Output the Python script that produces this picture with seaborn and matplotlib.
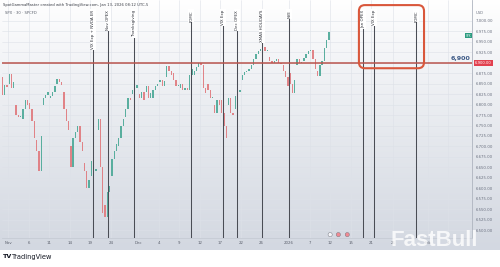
import numpy as np
import pandas as pd
import matplotlib
matplotlib.use("Agg")
import matplotlib.pyplot as plt
import matplotlib.transforms as mtransforms
from matplotlib.patches import FancyBboxPatch
from matplotlib.colors import to_rgb
import seaborn as sns

sns.set_theme(style="white")
plt.rcParams['font.family'] = ['DejaVu Sans']

# ---------------- data (SPX, each session: [open, 1/3 close, 2/3 close, close]) ----------------
oct_days = [[6865, 6822, 6848, 6842]]
nov_days = [
    [6850, 6872, 6840, 6855],  # 3
    [6800, 6775, 6770, 6772],  # 4
    [6765, 6790, 6812, 6800],  # 5
    [6805, 6790, 6760, 6720],  # 6
    [6715, 6690, 6640, 6725],  # 7
    [6800, 6815, 6822, 6830],  # 10
    [6815, 6820, 6830, 6845],  # 11
    [6850, 6862, 6855, 6848],  # 12
    [6830, 6790, 6760, 6740],  # 13
    [6700, 6650, 6720, 6735],  # 14
    [6735, 6750, 6710, 6690],  # 17
    [6660, 6640, 6600, 6620],  # 18
    [6630, 6665, 6640, 6645],  # 19
    [6740, 6765, 6650, 6540],  # 20
    [6560, 6530, 6590, 6605],  # 21
    [6630, 6670, 6690, 6705],  # 24
    [6700, 6720, 6750, 6765],  # 25
    [6770, 6790, 6815, 6812],  # 26
    [6825, 6835, 6840, 6848],  # 28
]
dec_days = [
    [6825, 6815, 6830, 6812],  # 1
    [6830, 6845, 6815, 6828],  # 2
    [6815, 6835, 6845, 6850],  # 3
    [6855, 6860, 6845, 6857],  # 4
    [6865, 6893, 6880, 6870],  # 5
    [6875, 6860, 6845, 6846],  # 8
    [6840, 6850, 6835, 6840],  # 9
    [6840, 6835, 6870, 6886],  # 10
    [6870, 6880, 6890, 6900],  # 11
    [6900, 6895, 6840, 6827],  # 12
    [6850, 6835, 6815, 6816],  # 15
    [6800, 6780, 6810, 6800],  # 16
    [6810, 6780, 6750, 6721],  # 17
    [6800, 6815, 6780, 6775],  # 18
    [6790, 6820, 6830, 6834],  # 19
    [6860, 6870, 6878, 6878],  # 22
    [6880, 6885, 6895, 6909],  # 23
    [6910, 6920, 6928, 6932],  # 24
    [6935, 6938, 6928, 6929],  # 26
    [6915, 6905, 6900, 6905],  # 29
    [6905, 6910, 6900, 6896],  # 30
    [6895, 6880, 6865, 6845],  # 31
]
jan_days = [
    [6875, 6850, 6828, 6858],  # 2
    [6895, 6910, 6900, 6902],  # 5
    [6905, 6912, 6920, 6928],  # 6
    [6928, 6930, 6910, 6885],  # 7
    [6880, 6868, 6895, 6905],  # 8
    [6905, 6935, 6955, 6973],  # 9
]
first_session = -1  # Oct 31 is one session before Nov 3 (session 0)

tick_sessions = [0, 3, 6, 9, 12, 15, 19, 22, 25, 28, 31, 34, 37, 41, 44, 47, 50, 53, 56.2, 61.3, 64.2]
tick_labels = ["Nov", "6", "11", "14", "19", "24", "Dec", "4", "9", "12", "17", "22", "26",
               "2026", "7", "12", "15", "21", "26", "Feb", "4"]

event_names = ["VIX Exp + NVDA ER", "Nov OPEX", "Thanksgiving", "FOMC", "VIX Exp", "Dec OPEX",
               "XMAS HOLIDAYS", "NYE", "Jan OPEX", "VIX Exp", "FOMC"]
event_sessions = [12.41, 14.60, 18.39, 26.72, 31.39, 33.43, 37.08, 41.02, 51.82, 53.43, 59.56]

price_ticks = list(range(6500, 7001, 25))
level = 6900
focus_box = {"x0": 51.2, "x1": 60.7, "y0": 6887, "y1": 7038}

# ---------------- build candles ----------------
all_days = oct_days + nov_days + dec_days + jan_days
rows, pts = [], []
for i, day in enumerate(all_days):
    s = first_session + i
    for k in range(3):
        rows.append({"x": s + (k + 0.5) / 3, "open": day[k], "close": day[k + 1]})
df = pd.DataFrame(rows)
df["up"] = df["close"] >= df["open"]
h = df["close"] - df["open"]
h = np.where(np.abs(h) < 2.0, np.where(h >= 0, 2.0, -2.0), h)

W, H = 500, 267
fig = plt.figure(figsize=(W / 100, H / 100), dpi=100)

# background gradient
bg = fig.add_axes([0, 0, 1, 1], zorder=-10)
bg.set_xlim(0, W); bg.set_ylim(H, 0); bg.axis("off")
g = np.linspace(0, 1, 256)[:, None, None]
top_c = np.array(to_rgb("#ffffff")); bot_c = np.array(to_rgb("#d3d8e1"))
img = top_c + (bot_c - top_c) * g ** 0.9
img = np.repeat(img, 2, axis=1)
bg.imshow(img, extent=[0, 472, 250, 0], aspect="auto")
bg.imshow(img, extent=[472, 500, 250, 0], aspect="auto")

# main axes
ax = fig.add_axes([2 / W, 1 - 238 / H, 470 / W, 238 / H], zorder=2)
ax.set_facecolor("none")
ax.set_xlim(-0.88, 67.7)
ax.set_ylim(6480.9, 7050.2)

ax.set_yticks(price_ticks)
ax.set_yticklabels([f"{v:,.2f}" for v in price_ticks])
ax.yaxis.tick_right()
ax.set_xticks(tick_sessions)
ax.set_xticklabels(tick_labels)
ax.tick_params(axis="y", length=0, pad=2.6, labelsize=2.8, labelcolor="#6b7180")
ax.tick_params(axis="x", length=0, pad=2.4, labelsize=2.8, labelcolor="#5a5f6b")
ax.grid(True, color="#dde1e8", lw=0.4)
for sp in ["top", "left"]:
    ax.spines[sp].set_visible(False)
ax.spines["right"].set_color("#aeb4bf"); ax.spines["right"].set_linewidth(0.6)
ax.spines["bottom"].set_color("#c3c8d1"); ax.spines["bottom"].set_linewidth(0.5)

# candles
colors = np.where(df["up"], "#4aa896", "#e0787c")
ax.bar(df["x"], h, bottom=df["open"], width=0.19, color=colors, linewidth=0, zorder=3, alpha=0.9)

# event lines
label_top = 7026
for name, s in zip(event_names, event_sessions):
    ax.plot([s, s], [6480.9, label_top], color="#4a4d55", lw=0.75, zorder=4)
    ax.text(s, label_top, name, rotation=90, ha="center", va="top", fontsize=2.9,
            color="#2f323a", zorder=5,
            bbox=dict(facecolor="white", edgecolor="none", pad=0.6))

# horizontal level
sns.lineplot(x=[-0.88, 67.7], y=[level, level], ax=ax, color="#b9544d", lw=1.1, zorder=4)
ax.text(66.0, level + 5, f"{level:,}", ha="center", va="bottom", fontsize=4.6,
        fontweight="bold", color="#3d5a86", zorder=6)
blend = mtransforms.blended_transform_factory(ax.transAxes, ax.transData)
ax.text(1.006, level, f"{level:,.2f}", transform=blend, ha="left", va="center",
        fontsize=2.7, color="white", zorder=6, clip_on=False,
        bbox=dict(facecolor="#e2404e", edgecolor="none", pad=0.8))
ax.text(0.998, all_days[-1][-1] - 8, "SPX", transform=blend, ha="right", va="center",
        fontsize=2.1, color="white", zorder=6, clip_on=False,
        bbox=dict(facecolor="#2c9c80", edgecolor="none", pad=0.6))

# focus box (rounded)
px_per_day = 470 / (67.7 + 0.88)
px_per_pt = 238 / (7050.2 - 6480.9)
r_days = 6 / px_per_day
box = FancyBboxPatch((focus_box["x0"], focus_box["y0"]), focus_box["x1"] - focus_box["x0"],
                     focus_box["y1"] - focus_box["y0"],
                     boxstyle=f"round,pad=0,rounding_size={r_days:.3f}",
                     mutation_aspect=(px_per_day / px_per_pt),
                     facecolor="none", edgecolor="#d9573b", lw=1.5, zorder=7, clip_on=False)
ax.add_patch(box)

# event markers near bottom
ev = pd.DataFrame({"x": [47.0, 48.2, 49.5], "y": [6489, 6489, 6489], "k": ["a", "b", "b"]})
sns.scatterplot(data=ev, x="x", y="y", hue="k", palette={"a": "#f4f4f7", "b": "#f08a93"},
                s=9, edgecolor="#6a6e78", linewidth=0.3, legend=False, ax=ax, zorder=6, clip_on=False)
ax.set_xlabel(""); ax.set_ylabel("")

# overlay for texts
ov = fig.add_axes([0, 0, 1, 1], zorder=10)
ov.set_xlim(0, W); ov.set_ylim(H, 0); ov.axis("off"); ov.set_facecolor("none")
ov.text(3, 5, "SpotGammaMaster created with TradingView.com, Jan 13, 2026 08:12 UTC-5",
        fontsize=2.7, color="#3a3d45", va="center", ha="left")
ov.text(5, 13, "SPX · 30 · SPCFD", fontsize=2.7, color="#5a5f6b", va="center", ha="left")
ov.text(476, 13, "USD", fontsize=2.7, color="#6b7180", va="center", ha="left")
ov.text(3, 257, "TV", fontsize=4.6, fontweight="heavy", color="#131722", va="center", ha="left")
ov.text(12, 257, "TradingView", fontsize=4.8, fontweight="medium", color="#131722",
        va="center", ha="left")
ov.text(434, 240, "FastBull", fontsize=16, fontweight="bold", family=["Liberation Sans", "DejaVu Sans"],
        color="white", alpha=0.8, ha="center", va="center")

fig.savefig("out.png", dpi=100)
